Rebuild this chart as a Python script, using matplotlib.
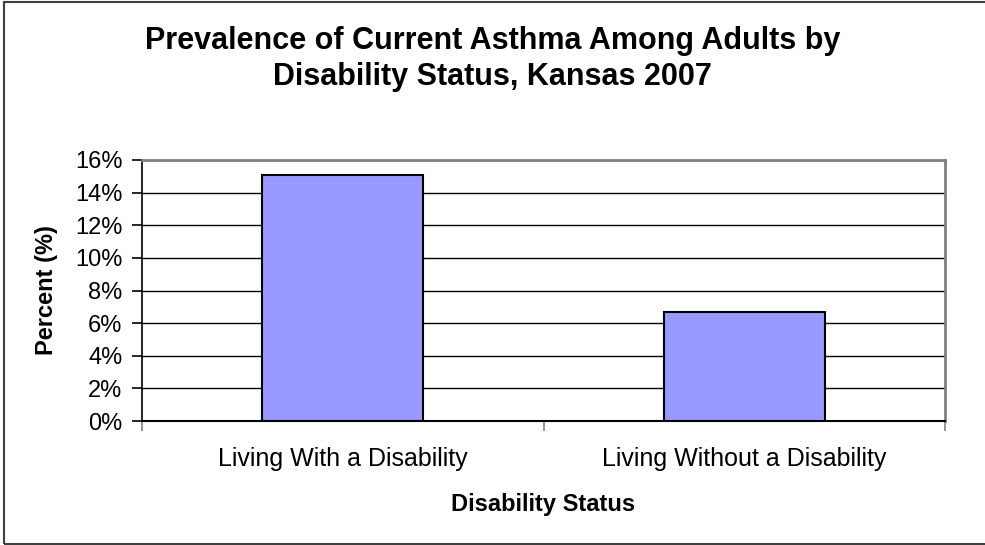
import matplotlib
matplotlib.use("Agg")
import matplotlib.pyplot as plt
from matplotlib.patches import Rectangle

# asthma prevalence by disability status
categories = ["Living With a Disability", "Living Without a Disability"]
prevalence = [15.1, 6.7]
y_ticks = [0, 2, 4, 6, 8, 10, 12, 14, 16]

plt.rcParams['font.family'] = ['Liberation Sans', 'DejaVu Sans']

W, H = 985, 545
fig = plt.figure(figsize=(W / 100, H / 100), dpi=100)
ax = fig.add_axes([142 / W, 1 - 421 / H, (945 - 142) / W, (421 - 160) / H])

x = list(range(len(categories)))
ax.bar(x, prevalence, width=0.4, color="#9999FF", edgecolor="black", linewidth=1.5, zorder=3)

ax.set_xlim(-0.5, len(categories) - 0.5)
ax.set_ylim(0, 16)
ax.set_yticks(y_ticks)
ax.set_yticklabels([f"{t}%" for t in y_ticks], fontsize=17)
ax.yaxis.grid(True, color="black", linewidth=1.0, zorder=0)

ax.set_xticks(x)
ax.set_xticklabels(categories, fontsize=18)
ax.set_xticks([-0.5, 0.5, 1.5], minor=True)
ax.tick_params(axis="x", which="major", length=0, pad=19)
ax.tick_params(axis="x", which="minor", length=7, color="#808080", width=1.2)
ax.tick_params(axis="y", length=7, width=1.2, pad=7)

for side in ["top", "right"]:
    ax.spines[side].set_color("#808080")
    ax.spines[side].set_linewidth(2)
ax.spines["left"].set_linewidth(1.2)
ax.spines["bottom"].set_linewidth(1.5)

ax.set_ylabel("Percent (%)", fontsize=17, fontweight="bold", labelpad=12)
ax.set_xlabel("Disability Status", fontsize=17, fontweight="bold", labelpad=15.5)

fig.text(0.5, 1 - 59 / H, "Prevalence of Current Asthma Among Adults by\nDisability Status, Kansas 2007",
         ha="center", va="center", fontsize=22, fontweight="bold", linespacing=1.3)

# chart area border
fig.patches.append(Rectangle((3.5 / W, 1.5 / H), 1.0, 1 - 3 / H, transform=fig.transFigure,
                             fill=False, edgecolor="#404040", linewidth=1.5))

fig.savefig("out.png", dpi=100)
